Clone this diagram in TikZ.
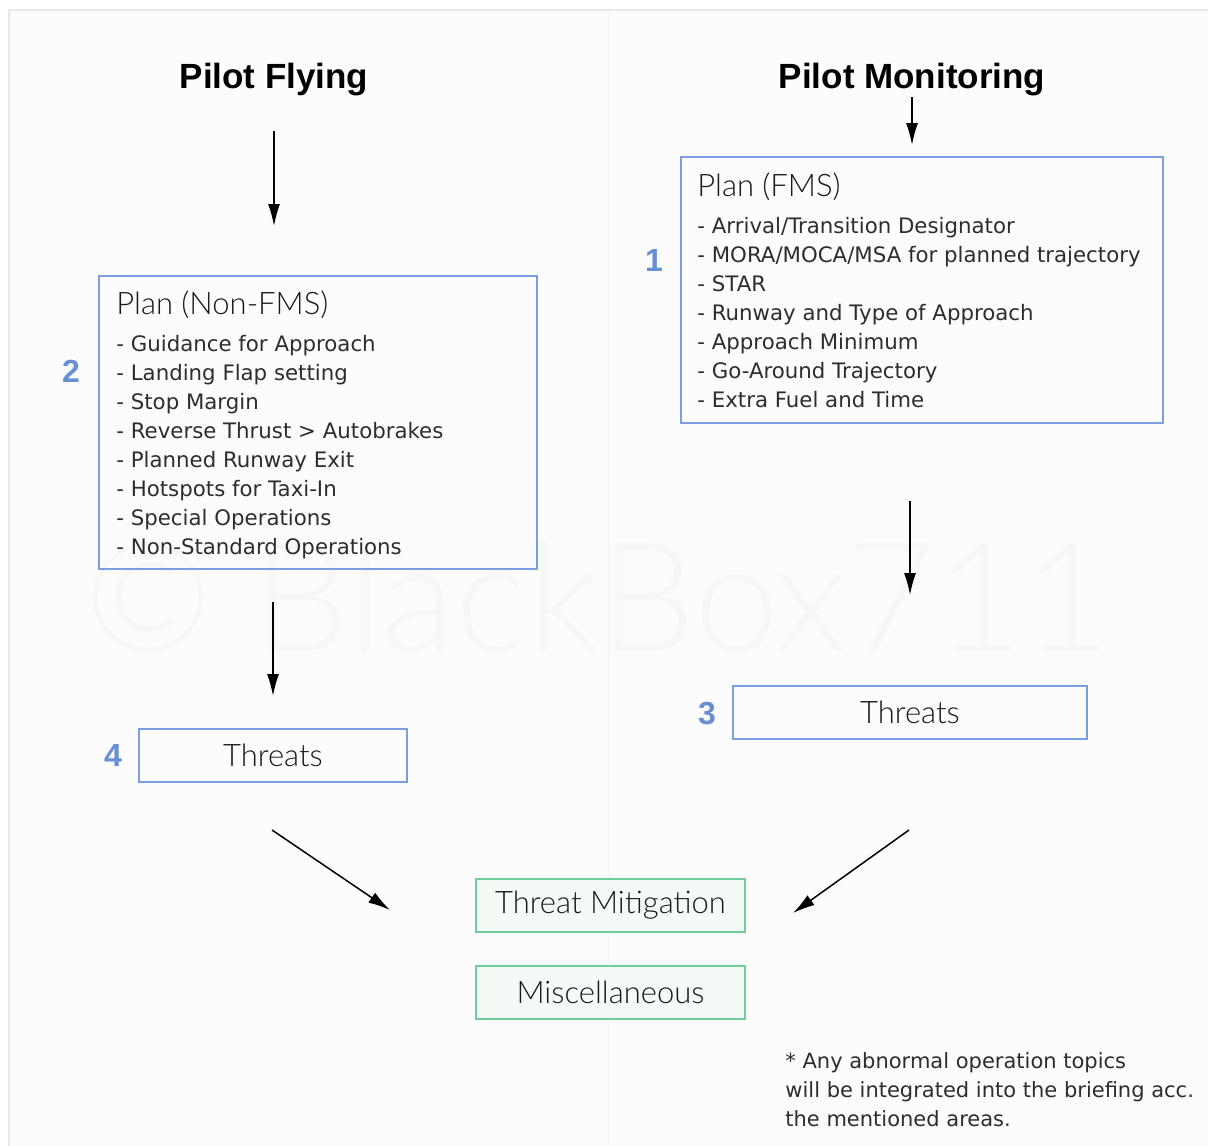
\documentclass[tikz,border=0pt]{standalone}
\usepackage{fontspec}
\setmainfont{Liberation Sans}
\newfontfamily\listfont{DejaVu Sans}
\newfontfamily\lightfont{Lato Light}
\usetikzlibrary{arrows.meta,positioning,calc}
\definecolor{planblue}{RGB}{122,158,224}
\definecolor{numblue}{RGB}{104,142,212}
\definecolor{mitgreen}{RGB}{112,204,152}
\definecolor{mitfill}{RGB}{244,250,246}
\definecolor{txtgray}{RGB}{45,45,45}
\tikzset{
  role/.style={font=\fontsize{17.5}{20}\selectfont\bfseries,inner sep=0,anchor=base},
  plan box/.style={draw=planblue,line width=1pt,inner sep=0},
  plan list/.style={anchor=north west,align=left,inner sep=0,text=txtgray,
    font=\listfont\fontsize{10.65}{14.5}\selectfont},
  threat box/.style={draw=planblue,line width=1pt,minimum height=26.5pt,
    text=black!90,font=\lightfont\fontsize{15.5}{18}\selectfont},
  topic box/.style={threat box,draw=mitgreen,fill=mitfill,minimum width=134.5pt},
  num/.style={text=numblue,font=\fontsize{16}{18}\selectfont\bfseries},
  flow/.style={-{Latex[length=11pt,width=6pt]},line width=0.75pt}
}
\newcommand{\planhead}[1]{{\color{black!90}\lightfont\fontsize{15.5}{18}\selectfont #1}\\[4.2pt]}

\begin{document}
\begin{tikzpicture}[x=0.5pt,y=-0.5pt]
    \useasboundingbox (0,0) rectangle (1208,1145);
    % Background
    \draw[draw=black!9,fill=black!1,line width=1pt] (9,10) rectangle (1212,1150);
    \draw[black!3,line width=1pt] (609,11) -- (609,1145);
    \node[text=black!3,font=\lightfont\fontsize{76}{84}\selectfont] (mark) at (598,597) {\textcopyright{} BlackBox711};
    % Nodes
    \node[role] (pf) at (274,89) {Pilot Flying};
    \node[role] (pm) at (912,89) {Pilot Monitoring};
    \node[plan box,minimum width=219pt,minimum height=146.5pt] (nonfms) at (318,422.5) {};
    \node[plan box,minimum width=241pt,minimum height=133pt] (fms) at (922,290) {};
    \node[plan list] (nonfms list) at ($(nonfms.north west)+(18,15)$) {\planhead{Plan (Non-FMS)}
      - Guidance for Approach\\
      - Landing Flap setting\\
      - Stop Margin\\
      - Reverse Thrust > Autobrakes\\
      - Planned Runway Exit\\
      - Hotspots for Taxi-In\\
      - Special Operations\\
      - Non-Standard Operations};
    \node[plan list] (fms list) at ($(fms.north west)+(17,16)$) {\planhead{Plan (FMS)}
      - Arrival/Transition Designator\\
      - MORA/MOCA/MSA for planned trajectory\\
      - STAR\\
      - Runway and Type of Approach\\
      - Approach Minimum\\
      - Go-Around Trajectory\\
      - Extra Fuel and Time};
    \node[threat box,minimum width=134pt] (threats4) at (273,755.5) {Threats};
    \node[threat box,minimum width=177pt] (threats3) at (910,712.5) {Threats};
    \node[topic box] (mitigation) at (610.5,905.5) {Threat Mitigation};
    \node[topic box] (misc) at (610.5,992.5) {Miscellaneous};
    \foreach \n/\x/\y in {1/654/260,2/71/371,3/707/713,4/113/755}
      \node[num] (num\n) at (\x,\y) {\n};
    \node[anchor=north west,align=left,inner sep=0,text=txtgray,
      font=\listfont\fontsize{10.5}{14.5}\selectfont] (note) at (785,1052)
      {* Any abnormal operation topics\\
       will be integrated into the briefing acc.\\
       the mentioned areas.};
    % Connections
    \coordinate (threats4 out) at (272,830);
    \coordinate (mitigation left) at (390,910);
    \coordinate (threats3 out) at (909,830);
    \coordinate (mitigation right) at (793,913);
    \draw[flow,shorten <=17pt,shorten >=24.5pt] (pf.south) -- (pf.south |- nonfms.north);
    \draw[flow,shorten >=5.5pt] (pm.south) -- (pm.south |- fms.north);
    \draw[flow,shorten <=16pt,shorten >=16pt] (threats4.north |- nonfms.south) -- (threats4.north);
    \draw[flow,shorten <=38.5pt,shorten >=45pt] (threats3.north |- fms.south) -- (threats3.north);
    \draw[flow] (threats4 out) -- (mitigation left);
    \draw[flow] (threats3 out) -- (mitigation right);
\end{tikzpicture}
\end{document}
